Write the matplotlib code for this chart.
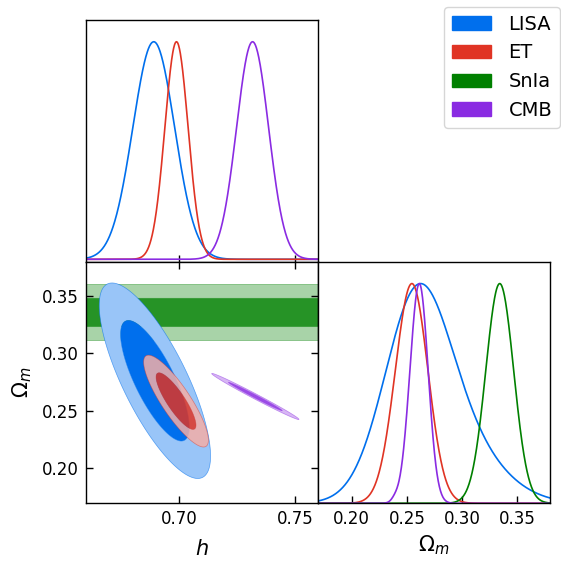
import math
import numpy as np
import matplotlib
matplotlib.use('Agg')
import matplotlib.pyplot as plt
import matplotlib.colors as mcolors
from matplotlib.patches import Patch

# ---------------- data ----------------
datasets = ['LISA', 'ET', 'SnIa', 'CMB']
colors = ['#006FED', '#E03424', '#008000', '#8A2BE2']

h_range = [0.66, 0.76]
om_range = [0.1695, 0.3795]
h_ticks = [0.70, 0.75]
om_ticks = [0.20, 0.25, 0.30, 0.35]

# 1D marginal of h (mean, sigma); SnIa does not constrain h
h1d_mean = [0.6892, 0.6990, None, 0.7318]
h1d_sigma = [0.0090, 0.0050, None, 0.0069]

# 1D marginal of Omega_m: mixture components (weight, mean, sigma_left, sigma_right)
lisa_om_components = [(1.0, 0.258, 0.0290, 0.0290), (0.38, 0.290, 0.040, 0.040)]
et_om_components = [(1.0, 0.2545, 0.0150, 0.0145)]
snia_om_components = [(1.0, 0.3340, 0.0126, 0.0126)]
cmb_om_components = [(1.0, 0.2612, 0.0085, 0.0080), (0.012, 0.239, 0.003, 0.003)]
om1d_components = [lisa_om_components, et_om_components,
                   snia_om_components, cmb_om_components]

# 2D posteriors (h, Omega_m): means, sigmas, correlation
c2d_h_mean = [0.6897, 0.6988, None, 0.7330]
c2d_om_mean = [0.2760, 0.2583, 0.3353, 0.2623]
c2d_h_sigma = [0.0098, 0.0057, None, 0.0077]
c2d_om_sigma = [0.0347, 0.0163, 0.0124, 0.0082]
c2d_rho = [-0.77, -0.85, 0.0, -0.992]
contour_probs = [0.68, 0.95]
draw_order = [2, 0, 1, 3]   # SnIa band below LISA

# ---------------- helpers ----------------
def pale(c, f=0.6):
    r = np.array(mcolors.to_rgb(c))
    return tuple(r * (1 - f) + f)

def split_normal_mix(x, comps):
    y = np.zeros_like(x)
    for w, m, sl, sr in comps:
        s = np.where(x < m, sl, sr)
        y += w * np.exp(-0.5 * ((x - m) / s) ** 2)
    return y / y.max()

def z_of_prob(p):
    lo, hi = 0.0, 10.0
    for _ in range(80):
        mid = 0.5 * (lo + hi)
        if math.erf(mid / math.sqrt(2)) < p:
            lo = mid
        else:
            hi = mid
    return 0.5 * (lo + hi)

# ---------------- figure ----------------
fig = plt.figure(figsize=(5.61, 5.61), dpi=100)
W, Hh = 232 / 561, 241.7 / 561
x_left, x_right = 86 / 561, 318 / 561
y_top, y_bot = 1 - 261.7 / 561, 1 - 503.3 / 561

ax_h = fig.add_axes([x_left, y_top, W, Hh])
ax_2d = fig.add_axes([x_left, y_bot, W, Hh])
ax_om = fig.add_axes([x_right, y_bot, W, Hh])

lw1d = 1.2
hx = np.linspace(h_range[0], h_range[1], 800)
ox = np.linspace(om_range[0], om_range[1], 800)

for i, name in enumerate(datasets):
    if h1d_mean[i] is not None:
        yh = np.exp(-0.5 * ((hx - h1d_mean[i]) / h1d_sigma[i]) ** 2)
        ax_h.plot(hx, yh, color=colors[i], lw=lw1d)
    ax_om.plot(ox, split_normal_mix(ox, om1d_components[i]), color=colors[i], lw=lw1d)

# 2D panel
HG, OG = np.meshgrid(np.linspace(h_range[0], h_range[1], 700),
                     np.linspace(om_range[0], om_range[1], 700))
for z, i in enumerate(draw_order):
    c = colors[i]
    alpha = 1.0 if i == 0 else 0.85
    if c2d_h_mean[i] is None:
        Z = np.exp(-0.5 * ((OG - c2d_om_mean[i]) / c2d_om_sigma[i]) ** 2)
        levels = sorted([math.exp(-0.5 * z_of_prob(p) ** 2) for p in contour_probs])
    else:
        dh = (HG - c2d_h_mean[i]) / c2d_h_sigma[i]
        do = (OG - c2d_om_mean[i]) / c2d_om_sigma[i]
        r = c2d_rho[i]
        chi2 = (dh ** 2 - 2 * r * dh * do + do ** 2) / (1 - r ** 2)
        Z = np.exp(-0.5 * chi2)
        levels = sorted([1 - p for p in contour_probs])
    ax_2d.contourf(HG, OG, Z, levels=levels + [1.01], colors=[pale(c), c],
                   alpha=alpha, zorder=1 + z, antialiased=True)
    ax_2d.contour(HG, OG, Z, levels=levels, colors=[c], linewidths=0.5,
                  alpha=0.6 * alpha, zorder=1 + z)

# axes formatting
for ax in (ax_h, ax_2d, ax_om):
    for sp in ax.spines.values():
        sp.set_linewidth(1.0)
    ax.tick_params(direction='in', length=5, width=1.0, labelsize=12, pad=5)

ax_h.set_xlim(h_range)
ax_h.set_ylim(-0.011, 1.1)
ax_h.set_xticks(h_ticks)
ax_h.set_xticklabels([])
ax_h.set_yticks([])

ax_2d.set_xlim(h_range)
ax_2d.set_ylim(om_range)
ax_2d.set_xticks(h_ticks)
ax_2d.set_yticks(om_ticks)
ax_2d.set_xticklabels(['%.2f' % t for t in h_ticks])
ax_2d.set_yticklabels(['%.2f' % t for t in om_ticks])
ax_2d.tick_params(top=True, right=True)
ax_2d.set_xlabel('$h$', fontsize=15, labelpad=8)
ax_2d.set_ylabel('$\\Omega_m$', fontsize=15, labelpad=6)

ax_om.set_xlim(om_range)
ax_om.set_ylim(0, 1.1)
ax_om.set_xticks(om_ticks)
ax_om.set_xticklabels(['%.2f' % t for t in om_ticks])
ax_om.set_yticks([])
ax_om.set_xlabel('$\\Omega_m$', fontsize=15, labelpad=4)

handles = [Patch(facecolor=c, edgecolor=c) for c in colors]
fig.legend(handles, datasets, loc='upper right', bbox_to_anchor=(560 / 561, 1 - 7 / 561),
           borderaxespad=0, fontsize=14, handletextpad=0.9)

fig.savefig('out.png', dpi=100)
